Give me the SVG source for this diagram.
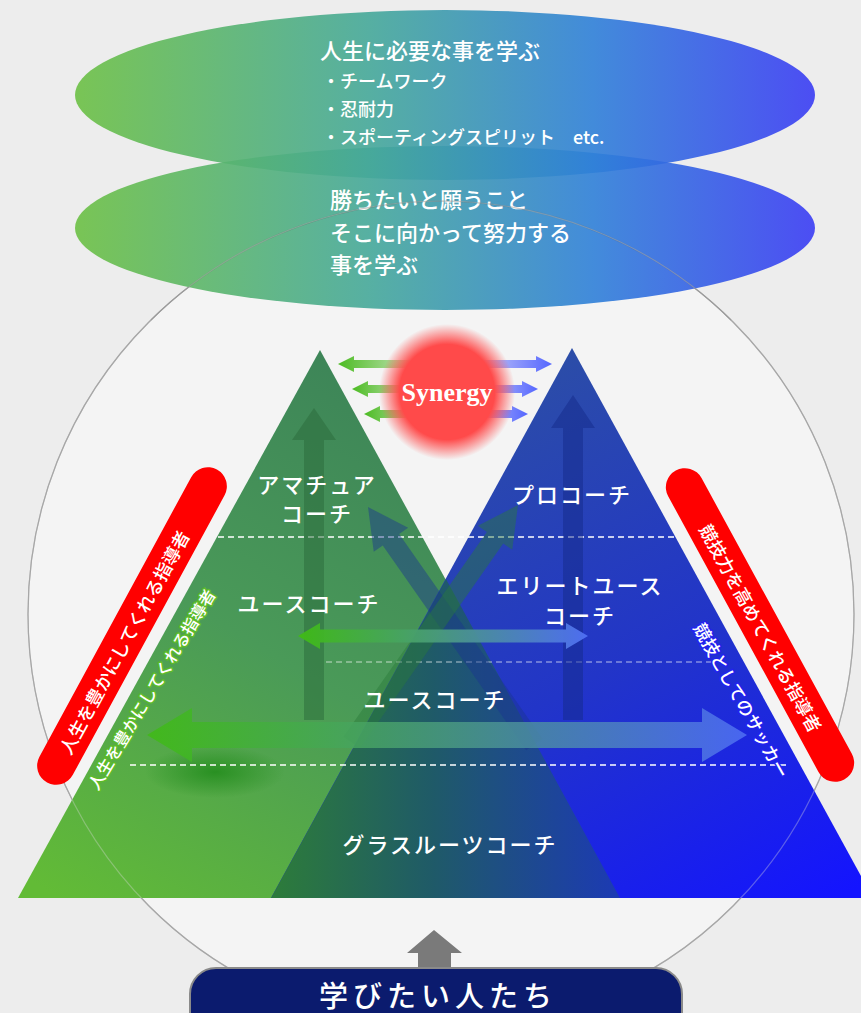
<svg xmlns="http://www.w3.org/2000/svg" width="861" height="1013" viewBox="0 0 861 1013">
<defs>
<style>
.jp{font-family:"Noto Sans CJK JP","Noto Sans",sans-serif;fill:#fff}
.lbl{font-size:22px;font-weight:500;text-anchor:middle;letter-spacing:2px}
.ell{font-size:22px;font-weight:500}
.bul{font-size:18px;font-weight:500}
.dash{stroke:#fff;stroke-width:1.5;stroke-dasharray:6 4;fill:none}
.pilltxt{font-size:18px;font-weight:500;text-anchor:middle;dominant-baseline:central}
</style>
<linearGradient id="gEll" x1="0" y1="0" x2="1" y2="0">
<stop offset="0" stop-color="#6cc044"/>
<stop offset="0.4" stop-color="#45a89a"/>
<stop offset="0.7" stop-color="#2f80d8"/>
<stop offset="1" stop-color="#3a3cf4"/>
</linearGradient>
<linearGradient id="gGreen" gradientUnits="userSpaceOnUse" x1="380" y1="350" x2="60" y2="898">
<stop offset="0" stop-color="#3c8358"/>
<stop offset="0.5" stop-color="#4a9a58"/>
<stop offset="1" stop-color="#62bb36"/>
</linearGradient>
<linearGradient id="gBlue" gradientUnits="userSpaceOnUse" x1="540" y1="350" x2="840" y2="898">
<stop offset="0" stop-color="#2c4ea6"/>
<stop offset="0.5" stop-color="#2235c8"/>
<stop offset="1" stop-color="#1414ff"/>
</linearGradient>
<linearGradient id="gOver" gradientUnits="userSpaceOnUse" x1="280" y1="0" x2="620" y2="0">
<stop offset="0" stop-color="#2c7a3c"/>
<stop offset="0.45" stop-color="#1f5a68"/>
<stop offset="1" stop-color="#1c3ab4"/>
</linearGradient>
<linearGradient id="gH" x1="0" y1="0" x2="1" y2="0">
<stop offset="0" stop-color="#3fbb14"/>
<stop offset="0.5" stop-color="#4a9a80"/>
<stop offset="1" stop-color="#5070f4"/>
</linearGradient>
<linearGradient id="gSynG" x1="0" y1="0" x2="1" y2="0">
<stop offset="0" stop-color="#4cbb22"/>
<stop offset="1" stop-color="#4cbb22" stop-opacity="0.3"/>
</linearGradient>
<linearGradient id="gSynB" x1="0" y1="0" x2="1" y2="0">
<stop offset="0" stop-color="#5566ff" stop-opacity="0.3"/>
<stop offset="1" stop-color="#5566ff"/>
</linearGradient>
<radialGradient id="gRed" cx="0.5" cy="0.5" r="0.5">
<stop offset="0" stop-color="#ff4a4a"/>
<stop offset="0.7" stop-color="#ff4a4a"/>
<stop offset="1" stop-color="#ff4a4a" stop-opacity="0"/>
</radialGradient>
<radialGradient id="gGlow" cx="0.5" cy="0.5" r="0.5">
<stop offset="0" stop-color="#1e8a18" stop-opacity="0.8"/>
<stop offset="1" stop-color="#1e8a18" stop-opacity="0"/>
</radialGradient>
</defs>

<rect width="861" height="1013" fill="#ededed"/>
<circle id="big-circle" cx="441" cy="614" r="413" fill="#f4f4f4" stroke="#8a8a8a" stroke-width="1.2"/>

<g id="ellipse-bottom">
<ellipse cx="445" cy="228" rx="370" ry="82" fill="url(#gEll)" opacity="0.9"/>
<text class="jp ell" x="330" y="208">勝ちたいと願うこと</text>
<text class="jp ell" x="330" y="241">そこに向かって努力する</text>
<text class="jp ell" x="330" y="273">事を学ぶ</text>
</g>
<g id="ellipse-top">
<ellipse cx="445" cy="95" rx="370" ry="85" fill="url(#gEll)" opacity="0.9"/>
<text class="jp ell" x="320" y="59" font-size="23">人生に必要な事を学ぶ</text>
<text class="jp bul" x="322" y="88">・チームワーク</text>
<text class="jp bul" x="322" y="116">・忍耐力</text>
<text class="jp bul" x="322" y="144">・スポーティングスピリット　etc.</text>
</g>
<path d="M 151 320 A 413 413 0 0 1 731 320" fill="none" stroke="#555" stroke-opacity="0.35" stroke-width="1.2"/>

<g id="pyramids">
<polygon id="tri-green" points="18,898 320,350 620,898" fill="url(#gGreen)"/>
<polygon id="tri-blue" points="271,898 572,348 873,898" fill="url(#gBlue)"/>
<polygon id="tri-overlap" points="446,579 271,898 620,898" fill="url(#gOver)"/>
<circle cx="441" cy="614" r="413" fill="none" stroke="#dddddd" stroke-opacity="0.35" stroke-width="1.2"/>
<ellipse cx="215" cy="772" rx="70" ry="26" fill="url(#gGlow)"/>
<line class="dash" x1="218" y1="537" x2="675" y2="537"/>
<line class="dash" x1="326" y1="662" x2="714" y2="662" stroke-opacity="0.45"/>
<line class="dash" x1="130" y1="765" x2="790" y2="765"/>
</g>

<g id="connectors">
<polygon points="314,408 336,440 324,440 324,720 304,720 304,440 292,440" fill="#2a6a3a" opacity="0.5"/>
<polygon points="573,395 595,428 583,428 583,720 563,720 563,428 551,428" fill="#142a8a" opacity="0.5"/>
<polygon transform="translate(368,507) rotate(-35)" points="0,0 21,40 10,40 10,290 -10,290 -10,40 -21,40" fill="#1a3590" opacity="0.45"/>
<polygon transform="translate(518,505) rotate(35)" points="0,0 21,40 10,40 10,290 -10,290 -10,40 -21,40" fill="#2a7a3a" opacity="0.45"/>
<polygon points="298,636 320,623 320,629.5 566,629.5 566,623 588,636 566,649 566,642.5 320,642.5 320,649" fill="url(#gH)" opacity="0.95"/>
<polygon points="147,735 192,708 192,722 702,722 702,708 747,735 702,762 702,748 192,748 192,762" fill="url(#gH)" opacity="0.85"/>
<polygon points="338,364 354,356 354,360 410,360 410,368 354,368 354,372" fill="url(#gSynG)"/>
<polygon points="352,389 368,381 368,385 410,385 410,393 368,393 368,397" fill="url(#gSynG)"/>
<polygon points="364,414 380,406 380,410 420,410 420,418 380,418 380,422" fill="url(#gSynG)"/>
<polygon points="552,364 536,356 536,360 480,360 480,368 536,368 536,372" fill="url(#gSynB)"/>
<polygon points="538,389 522,381 522,385 480,385 480,393 522,393 522,397" fill="url(#gSynB)"/>
<polygon points="528,414 512,406 512,410 470,410 470,418 512,418 512,422" fill="url(#gSynB)"/>
<polygon points="434,930 462,953 451,953 451,970 418,970 418,953 407,953" fill="#7a7a7a"/>
</g>

<g id="synergy">
<circle cx="447" cy="392" r="68" fill="url(#gRed)"/>
<text x="447" y="401" text-anchor="middle" font-family="Liberation Serif, serif" font-weight="bold" font-size="26" fill="#fff">Synergy</text>
</g>

<g id="label-amateur"><text class="jp lbl" x="317" y="493">アマチュア</text><text class="jp lbl" x="317" y="522">コーチ</text></g>
<g id="label-pro"><text class="jp lbl" x="572" y="503">プロコーチ</text></g>
<g id="label-youth-left"><text class="jp lbl" x="309" y="612">ユースコーチ</text></g>
<g id="label-elite"><text class="jp lbl" x="580" y="594">エリートユース</text><text class="jp lbl" x="580" y="624">コーチ</text></g>
<g id="label-youth-bottom"><text class="jp lbl" x="435" y="708">ユースコーチ</text></g>
<g id="label-grassroots"><text class="jp lbl" x="450" y="853">グラスルーツコーチ</text></g>

<g id="pill-left" transform="translate(132,626) rotate(-61.5)">
<rect x="-178" y="-19" width="356" height="38" rx="19" fill="#ff0000"/>
<text class="jp pilltxt" x="-18" y="0">人生を豊かにしてくれる指導者</text>
</g>
<g id="pill-right" transform="translate(760,625) rotate(61.4)">
<rect x="-176" y="-19" width="352" height="38" rx="19" fill="#ff0000"/>
<text class="jp pilltxt" x="3" y="0">競技力を高めてくれる指導者</text>
</g>
<g id="edge-text-left" transform="translate(151,689) rotate(-59)">
<text class="jp" x="0" y="0" font-size="16.5" font-weight="500" text-anchor="middle" dominant-baseline="central" stroke="#5cbb2a" stroke-width="3" paint-order="stroke" stroke-linejoin="round">人生を豊かにしてくれる指導者</text>
</g>
<g id="edge-text-right" transform="translate(742,700) rotate(60.6)">
<text class="jp" x="0" y="0" font-size="17.5" font-weight="500" text-anchor="middle" dominant-baseline="central" stroke="#2222ee" stroke-width="3" paint-order="stroke" stroke-linejoin="round">競技としてのサッカー</text>
</g>

<g id="learners">
<rect x="190" y="968" width="492" height="75" rx="26" fill="#0b1b6e" stroke="#8a8a8a" stroke-width="2"/>
<text class="jp" x="438" y="1007" font-size="29" font-weight="500" text-anchor="middle" letter-spacing="5">学びたい人たち</text>
</g>
</svg>
